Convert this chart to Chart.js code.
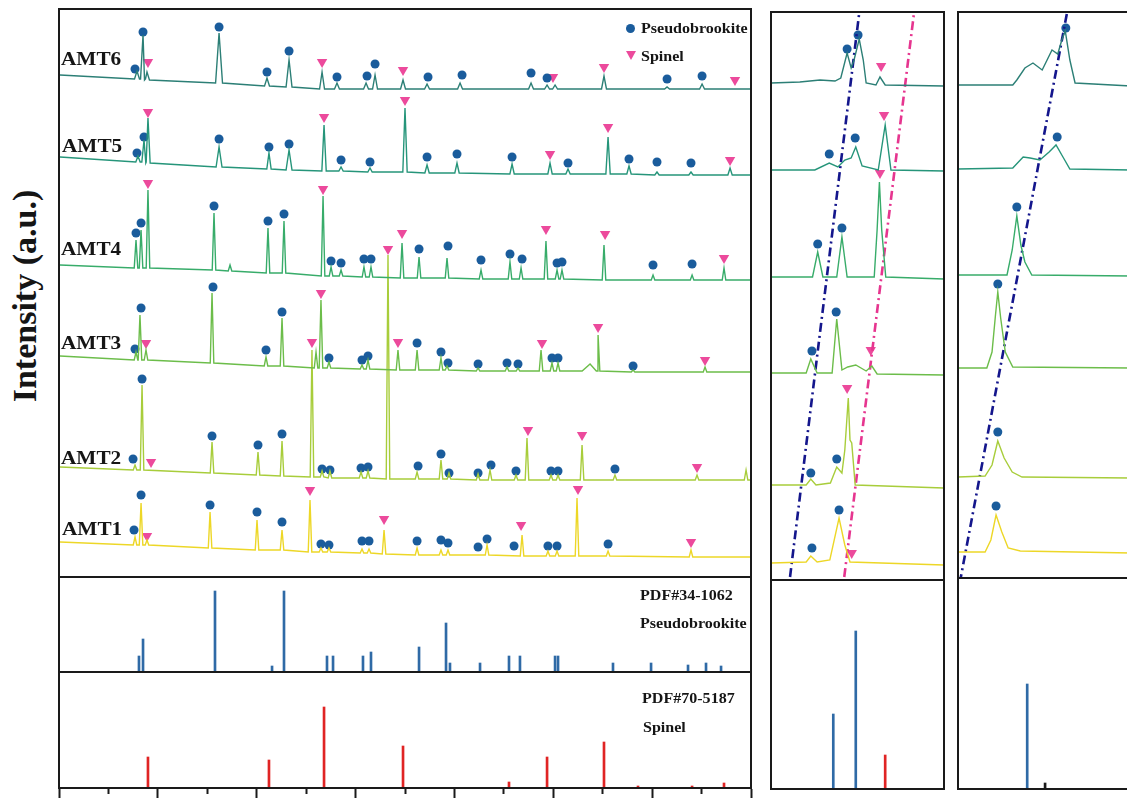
<!DOCTYPE html>
<html>
<head>
<meta charset="utf-8">
<script src="https://cdn.jsdelivr.net/npm/chart.js@4.4.0/dist/chart.umd.min.js"></script>
<style>
    html, body { margin: 0; padding: 0; background: #fff; overflow: hidden; }
    body { width: 1127px; height: 798px; position: relative; }
    .box { position: absolute; }
    .txt {
        position: absolute;
        font-family: 'Liberation Serif', 'Times New Roman', serif;
        font-weight: bold;
        color: #151515;
        line-height: 1;
        white-space: nowrap;
        transform-origin: left center;
    }
    .lab { font-size: 18px; transform: translateY(-50%) scaleX(1.18); }
    .leg { font-size: 15px; transform: translateY(-50%) scaleX(1.07); }
    .ytitle { font-size: 34px; left: 25px; top: 296px; transform: translate(-50%, -50%) rotate(-90deg); transform-origin: center center; }
    .dot { position: absolute; width: 9px; height: 9px; border-radius: 50%; background: #1A5C9C; }
    .tri { position: absolute; width: 0; height: 0; border-left: 5px solid transparent; border-right: 5px solid transparent; border-top: 9px solid #EC4A9C; }
</style>
</head>
<body>

<div class="box" style="left:57px; top:7px; width:696px; height:572px;"><canvas id="mainXrd"></canvas></div>
<div class="box" style="left:57px; top:575px; width:696px; height:99px;"><canvas id="mainPdf34"></canvas></div>
<div class="box" style="left:57px; top:670px; width:696px; height:128px;"><canvas id="mainPdf70"></canvas></div>
<div class="box" style="left:769px; top:10px; width:177px; height:572px;"><canvas id="midXrd"></canvas></div>
<div class="box" style="left:769px; top:578px; width:177px; height:213px;"><canvas id="midPdf"></canvas></div>
<div class="box" style="left:956px; top:10px; width:177px; height:570px;"><canvas id="rightXrd"></canvas></div>
<div class="box" style="left:956px; top:576px; width:177px; height:215px;"><canvas id="rightPdf"></canvas></div>

<div class="txt ytitle">Intensity (a.u.)</div>
<div class="txt lab" style="left:61px; top:59px;">AMT6</div>
<div class="txt lab" style="left:62px; top:146px;">AMT5</div>
<div class="txt lab" style="left:61px; top:249px;">AMT4</div>
<div class="txt lab" style="left:61px; top:343px;">AMT3</div>
<div class="txt lab" style="left:61px; top:458px;">AMT2</div>
<div class="txt lab" style="left:62px; top:529px;">AMT1</div>

<span class="dot" style="left:626px; top:24px;"></span>
<div class="txt leg" style="left:641px; top:28px;">Pseudobrookite</div>
<span class="tri" style="left:626px; top:51px;"></span>
<div class="txt leg" style="left:641px; top:56px;">Spinel</div>

<div class="txt leg" style="left:640px; top:595px;">PDF#34-1062</div>
<div class="txt leg" style="left:640px; top:623px;">Pseudobrookite</div>
<div class="txt leg" style="left:642px; top:698px;">PDF#70-5187</div>
<div class="txt leg" style="left:643px; top:727px;">Spinel</div>

<script>
// ---------- main panel: 2theta (deg) / intensity (a.u., stacked) ----------
// peaks are [2theta, baseline under peak, peak top, optional half width]
const amt6Peaks = [
    [17.89, 498, 506], [18.50, 498, 542], [18.90, 497, 505], [26.19, 494, 544, 0.35],
    [31.04, 491, 499], [33.27, 490, 517, 0.3], [36.61, 488, 505], [38.12, 488, 494],
    [41.06, 488, 494], [41.97, 488, 502], [44.80, 488, 497], [47.23, 488, 493],
    [50.57, 488, 494], [57.75, 488, 494], [59.37, 488, 492], [60.18, 488, 492],
    [65.13, 488, 501], [71.51, 488, 490], [75.05, 488, 493]
];
const amt6Ends = [[10.1, 502], [80, 488]];

const amt5Peaks = [
    [17.99, 415, 421], [18.60, 415, 437], [19.00, 414, 459], [26.19, 410, 430, 0.3],
    [31.24, 408, 424], [33.27, 407, 427, 0.3], [36.81, 406, 452], [38.53, 406, 410],
    [41.46, 405, 409], [45.00, 405, 469], [47.23, 404, 412], [50.26, 404, 414],
    [55.83, 403, 413], [59.67, 403, 414], [61.49, 403, 408], [65.54, 403, 440],
    [67.66, 403, 411], [70.49, 402, 405], [73.93, 402, 405], [77.88, 402, 409]
];
const amt5Ends = [[10.1, 420], [80, 402]];

const amt4Peaks = [
    [17.79, 309, 337], [18.30, 309, 347], [19.00, 309, 387], [25.68, 307, 364],
    [27.30, 306, 312], [31.14, 304, 349], [32.76, 304, 356], [36.71, 301, 381],
    [37.52, 301, 310], [38.53, 301, 307], [40.85, 300, 310], [41.56, 300, 310],
    [44.70, 299, 334], [46.42, 299, 320], [49.25, 299, 319], [52.69, 298, 307],
    [55.62, 298, 315], [56.74, 298, 309], [59.26, 298, 336], [60.38, 298, 307],
    [60.88, 298, 307], [65.13, 297, 332], [70.09, 297, 302], [74.04, 297, 302],
    [77.27, 297, 309]
];
const amt4Ends = [[10.1, 312], [80, 297]];

const amt3Peaks = [
    [17.79, 217, 225], [18.19, 217, 262], [18.80, 217, 227], [25.48, 214, 284],
    [30.94, 211, 220], [32.56, 211, 259], [36.00, 209, 225], [36.50, 209, 277],
    [37.31, 209, 215], [40.65, 208, 212], [41.26, 208, 217], [44.29, 207, 227],
    [46.22, 207, 227], [48.64, 207, 219], [49.25, 207, 211], [52.39, 206, 209],
    [55.32, 206, 210], [56.43, 206, 209], [58.76, 206, 227], [59.87, 206, 214],
    [60.48, 206, 214], [63.72, 206, 213, 0.8], [64.53, 206, 242], [68.07, 205, 207],
    [75.35, 205, 210]
];
const amt3Ends = [[10.1, 221], [80, 205]];

const amt2Peaks = [
    [17.69, 107, 112], [18.40, 107, 192], [25.48, 104, 135], [30.13, 102, 125],
    [32.56, 101, 136], [35.59, 100, 227], [36.61, 100, 106], [37.41, 99, 106],
    [40.55, 99, 105], [41.26, 99, 106], [43.28, 98, 322], [46.22, 98, 105],
    [48.64, 98, 117], [49.45, 98, 104], [52.39, 97, 103], [53.60, 97, 107],
    [56.23, 97, 102], [57.34, 97, 139], [59.77, 97, 102], [60.48, 97, 102],
    [62.91, 97, 132], [66.24, 97, 102], [74.54, 97, 102], [79.50, 97, 107]
];
const amt2Ends = [[10.1, 110], [80, 97]];

const amt1Peaks = [
    [17.69, 32, 40], [18.30, 32, 74], [18.90, 32, 37], [25.28, 29, 65],
    [30.03, 27, 57], [32.56, 27, 47], [35.39, 25, 77], [36.50, 25, 29],
    [37.31, 25, 29], [40.65, 24, 28], [41.36, 24, 28], [42.88, 23, 47],
    [46.22, 22, 29], [48.64, 22, 27], [49.35, 22, 27], [53.30, 22, 32],
    [56.84, 21, 42], [59.46, 21, 26], [60.38, 21, 26], [62.40, 21, 79],
    [65.54, 21, 26], [73.93, 20, 27]
];
const amt1Ends = [[10.1, 35], [80, 20]];

// phase markers on the main panel
const mainPseudo = [
    [17.69, 508], [18.50, 545], [26.19, 550], [31.04, 505], [33.27, 526], [38.12, 500], [41.16, 501],
    [41.97, 513], [47.33, 500], [50.77, 502], [57.75, 504], [59.37, 499], [71.51, 498], [75.05, 501],
    [17.89, 424], [18.60, 440], [26.19, 438], [31.24, 430], [33.27, 433], [38.53, 417], [41.46, 415],
    [47.23, 420], [50.26, 423], [55.83, 420], [61.49, 414], [67.66, 418], [70.49, 415], [73.93, 414],
    [17.79, 344], [18.30, 354], [25.68, 371], [31.14, 356], [32.76, 363], [37.52, 316], [38.53, 314],
    [40.85, 318], [41.56, 318], [46.42, 328], [49.35, 331], [52.69, 317], [55.62, 323], [56.84, 318],
    [60.38, 314], [60.88, 315], [70.09, 312], [74.04, 313],
    [17.69, 228], [18.30, 269], [25.58, 290], [30.94, 227], [32.56, 265], [37.31, 219], [40.65, 217],
    [41.26, 221], [46.22, 234], [48.64, 225], [49.35, 214], [52.39, 213], [55.32, 214], [56.43, 213],
    [59.87, 219], [60.48, 219], [68.07, 211],
    [17.49, 118], [18.40, 198], [25.48, 141], [30.13, 132], [32.56, 143], [36.61, 108], [37.41, 107],
    [40.55, 109], [41.26, 110], [46.32, 111], [48.64, 123], [49.45, 104], [52.39, 104], [53.70, 112],
    [56.23, 106], [59.77, 106], [60.48, 106], [66.24, 108],
    [17.59, 47], [18.30, 82], [25.28, 72], [30.03, 65], [32.56, 55], [36.50, 33], [37.31, 32],
    [40.65, 36], [41.36, 36], [46.22, 36], [48.64, 37], [49.35, 34], [52.39, 30], [53.30, 38],
    [56.03, 31], [59.46, 31], [60.38, 31], [65.54, 33]
];
const mainSpinel = [
    [19.00, 515], [36.61, 515], [44.80, 507], [59.97, 500], [65.13, 510], [78.38, 497],
    [19.00, 465], [36.81, 460], [45.00, 477], [59.67, 423], [65.54, 450], [77.88, 417],
    [19.00, 394], [36.71, 388], [44.70, 344], [59.26, 348], [65.24, 343], [77.27, 319],
    [18.80, 234], [36.50, 284], [44.29, 235], [58.86, 234], [64.53, 250], [75.35, 217],
    [19.31, 115], [35.59, 235], [43.28, 328], [57.44, 147], [62.91, 142], [74.54, 110],
    [18.90, 41], [35.39, 87], [42.88, 58], [56.74, 52], [62.50, 88], [73.93, 35]
];

// reference patterns [2theta, relative intensity]
const pdf34Lines = [
    [18.09, 16], [18.50, 33], [25.78, 81], [31.55, 6], [32.76, 81], [37.11, 16], [37.72, 16],
    [40.75, 16], [41.56, 20], [46.42, 25], [49.15, 49], [49.55, 9], [52.59, 9], [55.52, 16],
    [56.63, 16], [60.18, 16], [60.48, 16], [66.04, 9], [69.89, 9], [73.63, 7], [75.45, 9], [76.97, 6]
];
const pdf70Lines = [
    [19.00, 31], [31.24, 28], [36.81, 81], [44.80, 42], [55.52, 6], [59.37, 31],
    [65.13, 46], [68.57, 2], [74.04, 2], [77.27, 5]
];

// ---------- zoom 17-20 deg ----------
const midAmt6 = [[17.00, 497], [17.50, 498], [17.85, 500], [18.11, 499], [18.21, 502], [18.32, 527], [18.39, 512],
    [18.44, 520], [18.53, 541], [18.60, 520], [18.65, 497], [18.82, 495], [18.89, 503], [18.98, 495], [20.00, 494]];
const midAmt5 = [[17.00, 410], [17.76, 410], [18.01, 417], [18.16, 413], [18.28, 420], [18.39, 422], [18.47, 433],
    [18.58, 414], [18.86, 410], [18.98, 455], [19.08, 410], [20.00, 409]];
const midAmt4 = [[17.00, 303], [17.72, 303], [17.81, 328], [17.90, 303], [18.14, 303], [18.23, 343], [18.32, 303],
    [18.79, 303], [18.84, 350], [18.88, 398], [18.92, 350], [18.99, 303], [20.00, 301]];
const midAmt3 = [[17.00, 207], [17.61, 207], [17.69, 221], [17.80, 207], [18.06, 207], [18.14, 261], [18.23, 210],
    [18.33, 213], [18.47, 215], [18.65, 209], [18.75, 214], [18.84, 206], [20.00, 205]];
const midAmt2 = [[17.00, 95], [17.61, 95], [17.69, 101], [17.78, 95], [18.03, 97], [18.14, 113], [18.23, 107],
    [18.28, 130], [18.34, 182], [18.37, 140], [18.40, 137], [18.46, 95], [20.00, 92]];
const midAmt1 = [[17.00, 17], [17.61, 18], [17.69, 24], [17.80, 18], [18.02, 20], [18.18, 62], [18.28, 35],
    [18.37, 18], [20.00, 15]];
const midPseudo = [[18.32, 531], [18.51, 545], [18.01, 426], [18.46, 442], [17.81, 336], [18.23, 352],
    [17.71, 229], [18.13, 268], [17.69, 107], [18.14, 121], [17.71, 32], [18.18, 70]];
const midSpinel = [[18.91, 514], [18.96, 465], [18.89, 407], [18.73, 230], [18.32, 192], [18.40, 27]];
const midShiftPseudo = [[17.33, 3], [18.53, 567]];
const midShiftSpinel = [[18.27, 3], [19.48, 567]];
const midPdfPseudo = [[18.08, 75], [18.47, 158]];
const midPdfSpinel = [[18.98, 34]];

// ---------- zoom 24.6-27.6 deg ----------
const rightAmt6 = [[24.60, 495], [25.55, 495], [25.62, 500], [25.76, 512], [25.90, 517], [26.06, 510], [26.23, 530],
    [26.33, 526], [26.40, 540], [26.46, 549], [26.54, 520], [26.63, 497], [27.60, 494]];
const rightAmt5 = [[24.60, 411], [25.55, 412], [25.73, 423], [25.85, 422], [26.02, 420], [26.18, 428], [26.30, 435],
    [26.42, 423], [26.54, 411], [27.60, 410]];
const rightAmt4 = [[24.60, 305], [25.45, 305], [25.54, 330], [25.62, 364], [25.69, 335], [25.76, 318], [25.88, 305],
    [27.60, 304]];
const rightAmt3 = [[24.60, 212], [25.10, 212], [25.19, 228], [25.25, 265], [25.29, 288], [25.34, 262], [25.42, 228],
    [25.55, 213], [27.60, 212]];
const rightAmt2 = [[24.60, 103], [25.07, 104], [25.19, 115], [25.29, 139], [25.40, 122], [25.54, 108], [25.71, 103],
    [27.60, 102]];
const rightAmt1 = [[24.60, 28], [25.07, 28], [25.17, 40], [25.26, 65], [25.36, 48], [25.47, 32], [25.68, 29],
    [27.60, 27]];
const rightPseudo = [[26.47, 552], [26.32, 443], [25.62, 373], [25.29, 296], [25.29, 148], [25.26, 74]];
const rightShiftPseudo = [[24.63, -3], [26.49, 567]];
const rightPdfPseudo = [[25.80, 105]];
const rightPdfOther = [[26.11, 6]];

// ---------- styling ----------
const curveColors = ['#EDD727', '#A8CD3B', '#6CBD4A', '#38AC6A', '#26957A', '#2C7F76'];
const pseudoColor = '#1A5C9C';
const spinelColor = '#EC4A9C';

const xy = arr => arr.map(p => ({ x: p[0], y: p[1] }));

// turn peak list into a stick-like profile on the baseline
function profile(peaks, ends, hw) {
    const pts = xy(ends);
    peaks.forEach(p => {
        const w = p[3] || hw;
        pts.push({ x: p[0] - w, y: p[1] }, { x: p[0], y: p[2] }, { x: p[0] + w, y: p[1] });
    });
    return pts.sort((a, b) => a.x - b.x);
}

function curve(data, color) {
    return { data: data, showLine: true, borderColor: color, borderWidth: 1.4, pointRadius: 0, tension: 0, fill: false };
}
function circles(data) {
    return { data: xy(data), showLine: false, pointStyle: 'circle', pointRadius: 4.5, backgroundColor: pseudoColor, borderWidth: 0 };
}
function triangles(data) {
    return { data: xy(data), showLine: false, pointStyle: 'triangle', pointRotation: 180, pointRadius: 6, backgroundColor: spinelColor, borderWidth: 0 };
}
function guide(data, color) {
    return { data: xy(data), showLine: true, borderColor: color, borderWidth: 2.6, borderDash: [9, 4, 2, 4], pointRadius: 0 };
}
function sticks(data, color) {
    return { data: xy(data), backgroundColor: color, barThickness: 2, grouped: false };
}

// box round the plot area
const framePlugin = {
    id: 'frame',
    afterDraw(chart) {
        const a = chart.chartArea, c = chart.ctx;
        c.save();
        c.strokeStyle = '#1a1a1a';
        c.lineWidth = 2;
        c.strokeRect(a.left, a.top, a.right - a.left, a.bottom - a.top);
        c.restore();
    }
};

function opts(xmin, xmax, ymin, ymax) {
    return {
        responsive: true,
        maintainAspectRatio: false,
        animation: false,
        events: [],
        layout: { padding: 2, autoPadding: false },
        plugins: { legend: { display: false }, tooltip: { enabled: false } },
        scales: {
            x: { type: 'linear', min: xmin, max: xmax, display: false, offset: false },
            y: { type: 'linear', min: ymin, max: ymax, display: false }
        }
    };
}

// main patterns
new Chart(document.getElementById('mainXrd'), {
    type: 'scatter',
    data: {
        datasets: [
            curve(profile(amt6Peaks, amt6Ends, 0.25), curveColors[5]),
            curve(profile(amt5Peaks, amt5Ends, 0.22), curveColors[4]),
            curve(profile(amt4Peaks, amt4Ends, 0.18), curveColors[3]),
            curve(profile(amt3Peaks, amt3Ends, 0.18), curveColors[2]),
            curve(profile(amt2Peaks, amt2Ends, 0.18), curveColors[1]),
            curve(profile(amt1Peaks, amt1Ends, 0.18), curveColors[0]),
            circles(mainPseudo),
            triangles(mainSpinel)
        ]
    },
    options: opts(10, 80, 0, 568),
    plugins: [framePlugin]
});

new Chart(document.getElementById('mainPdf34'), {
    type: 'bar',
    data: { datasets: [sticks(pdf34Lines, '#2F6AA6')] },
    options: opts(10, 80, 0, 95),
    plugins: [framePlugin]
});

const pdf70Opts = opts(10, 80, 0, 116);
pdf70Opts.layout.padding = { left: 2, right: 2, top: 2, bottom: 0 };
pdf70Opts.scales.x = {
    type: 'linear', min: 10, max: 80, offset: false, display: true,
    ticks: { stepSize: 5, display: false },
    border: { display: true, color: '#1a1a1a', width: 2 },
    grid: {
        display: true, offset: false, drawOnChartArea: false, drawTicks: true, tickLength: 10,
        tickWidth: 2, tickColor: '#1a1a1a',
        tickBorderDash: ctx => (ctx.tick && ctx.tick.value % 10 !== 0) ? [5, 40] : []
    }
};
new Chart(document.getElementById('mainPdf70'), {
    type: 'bar',
    data: { datasets: [sticks(pdf70Lines, '#E02424')] },
    options: pdf70Opts,
    plugins: [framePlugin]
});

// zoom 17-20
new Chart(document.getElementById('midXrd'), {
    type: 'scatter',
    data: {
        datasets: [
            curve(xy(midAmt6), curveColors[5]),
            curve(xy(midAmt5), curveColors[4]),
            curve(xy(midAmt4), curveColors[3]),
            curve(xy(midAmt3), curveColors[2]),
            curve(xy(midAmt2), curveColors[1]),
            curve(xy(midAmt1), curveColors[0]),
            guide(midShiftPseudo, '#14168C'),
            guide(midShiftSpinel, '#E6358F'),
            circles(midPseudo),
            triangles(midSpinel)
        ]
    },
    options: opts(17, 20, 0, 568),
    plugins: [framePlugin]
});

new Chart(document.getElementById('midPdf'), {
    type: 'bar',
    data: { datasets: [sticks(midPdfPseudo, '#2F6AA6'), sticks(midPdfSpinel, '#E02424')] },
    options: opts(17, 20, 0, 209),
    plugins: [framePlugin]
});

// zoom 24.6-27.6
new Chart(document.getElementById('rightXrd'), {
    type: 'scatter',
    data: {
        datasets: [
            curve(xy(rightAmt6), curveColors[5]),
            curve(xy(rightAmt5), curveColors[4]),
            curve(xy(rightAmt4), curveColors[3]),
            curve(xy(rightAmt3), curveColors[2]),
            curve(xy(rightAmt2), curveColors[1]),
            curve(xy(rightAmt1), curveColors[0]),
            guide(rightShiftPseudo, '#14168C'),
            circles(rightPseudo)
        ]
    },
    options: opts(24.6, 27.6, 2, 568),
    plugins: [framePlugin]
});

new Chart(document.getElementById('rightPdf'), {
    type: 'bar',
    data: { datasets: [sticks(rightPdfPseudo, '#2F6AA6'), sticks(rightPdfOther, '#1a1a1a')] },
    options: opts(24.6, 27.6, 0, 211),
    plugins: [framePlugin]
});
</script>
</body>
</html>
